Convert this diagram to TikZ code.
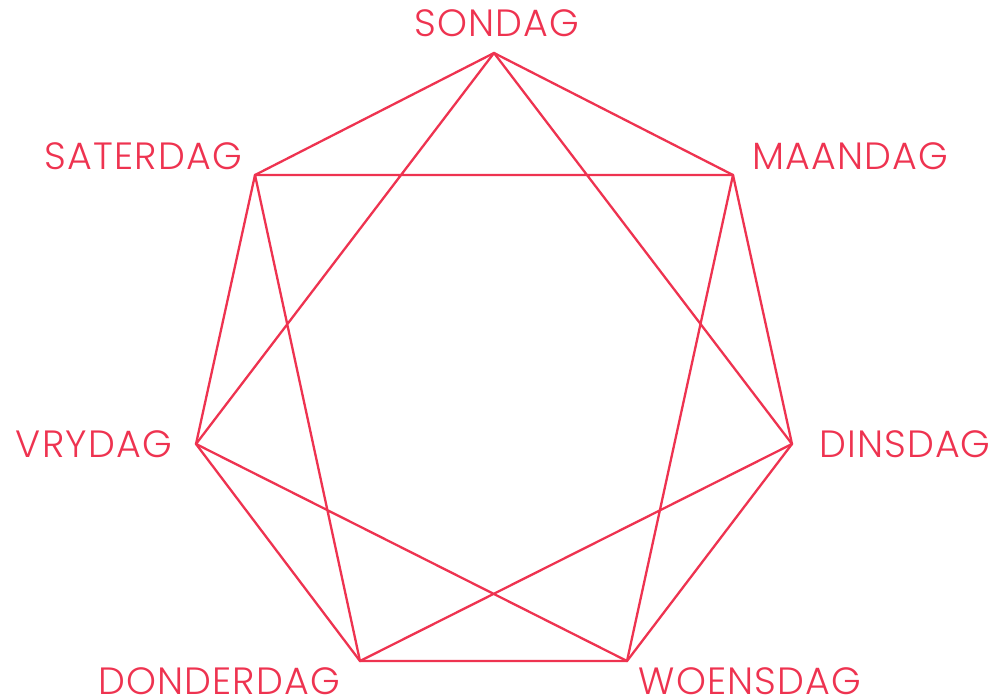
\documentclass[tikz,border=0pt]{standalone}
\usepackage{fontspec}
\setmainfont{Poppins Light}[LetterSpace=3]
\usetikzlibrary{positioning}
\definecolor{dayred}{RGB}{238,51,80}

\begin{document}
\begin{tikzpicture}[
  x=1pt, y=-1pt,
  day/.style={text=dayred, font=\fontsize{38}{40}\selectfont, inner sep=0pt},
  edge/.style={draw=dayred, line width=2.3pt, line join=round}
]
\useasboundingbox (0,0) rectangle (990,698);

% corners of the week
\coordinate (sondag) at (494,53);
\coordinate (maandag) at (733,175);
\coordinate (dinsdag) at (792,444);
\coordinate (woensdag) at (627,661);
\coordinate (donderdag) at (360,661);
\coordinate (vrydag) at (196,444);
\coordinate (saterdag) at (255,175);

\node[day, anchor=base] (lsondag) at (497,37) {SONDAG};
\node[day, anchor=base west] (lmaandag) at (752,169) {MAANDAG};
\node[day, anchor=base west] (ldinsdag) at (819,457) {DINSDAG};
\node[day, anchor=base] (lwoensdag) at (750,694) {WOENSDAG};
\node[day, anchor=base] (ldonderdag) at (219,694) {DONDERDAG};
\node[day, anchor=base east] (lvrydag) at (172,457) {VRYDAG};
\node[day, anchor=base east] (lsaterdag) at (242,169) {SATERDAG};

% outer ring and star
\draw[edge] (sondag) -- (maandag) -- (dinsdag) -- (woensdag) -- (donderdag)
  -- (vrydag) -- (saterdag) -- cycle;
\draw[edge] (sondag) -- (dinsdag) -- (donderdag) -- (saterdag) -- (maandag)
  -- (woensdag) -- (vrydag) -- cycle;
\end{tikzpicture}
\end{document}
